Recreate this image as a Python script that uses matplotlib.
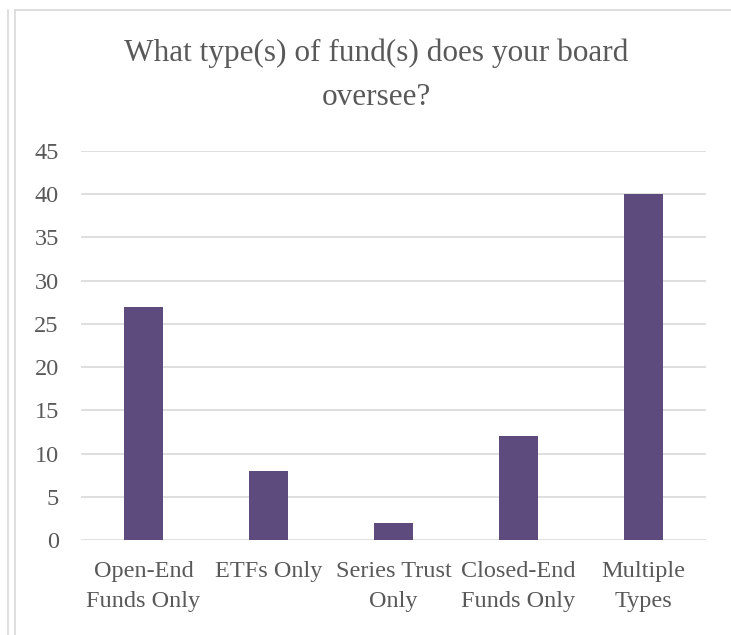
import matplotlib.pyplot as plt
from matplotlib.lines import Line2D

categories = ["Open-End\nFunds Only", "ETFs Only", "Series Trust\nOnly",
              "Closed-End\nFunds Only", "Multiple\nTypes"]
counts = [27, 8, 2, 12, 40]
yticks = [0, 5, 10, 15, 20, 25, 30, 35, 40, 45]

TEXT = "#595959"
BAR = "#5E4B7E"
GRID = "#D9D9D9"

plt.rcParams["font.family"] = ["Liberation Serif", "DejaVu Serif"]

W, H = 731, 635
fig = plt.figure(figsize=(W / 100, H / 100), dpi=100)
ax = fig.add_axes([81 / W, 1 - 540 / H, 625 / W, 389 / H])

x = range(len(categories))
ax.bar(x, counts, width=0.31, color=BAR, zorder=3)
ax.set_xlim(-0.5, len(categories) - 0.5)
ax.set_ylim(0, 45)
ax.set_yticks(yticks)
ax.set_xticks(list(x))
ax.set_xticklabels(categories, fontsize=17.5, color=TEXT, linespacing=1.6)
ax.tick_params(axis="y", labelsize=17.5, labelcolor=TEXT, length=0, pad=16)
ax.tick_params(axis="x", length=0, pad=15)
ax.grid(axis="y", color=GRID, linewidth=1.2, zorder=0)
for s in ax.spines.values():
    s.set_visible(False)

fig.text(376 / W, 1 - 75 / H, "What type(s) of fund(s) does your board\noversee?",
         ha="center", va="center", fontsize=22.5, color=TEXT, linespacing=1.7)

# chart frame (cropped at right and bottom)
frame = dict(color="#D9D9D9", linewidth=1.2, transform=fig.transFigure)
fig.add_artist(Line2D([8 / W, 8 / W], [0, 1 - 10 / H], **frame))
fig.add_artist(Line2D([15 / W, 15 / W], [0, 1 - 10 / H], **frame))
fig.add_artist(Line2D([15 / W, 1], [1 - 10 / H, 1 - 10 / H], **frame))

fig.savefig("out.png", dpi=100)
